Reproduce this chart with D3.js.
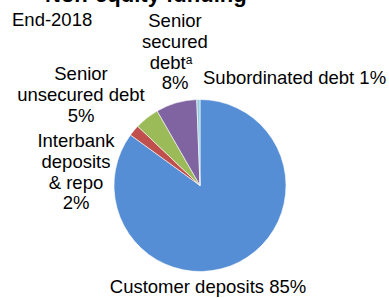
<!DOCTYPE html>
<html>
    <head>
        <meta charset="utf-8">
        <style>
        html, body {
            margin: 0px;
            background: #fff;
        }
        svg text {
            font-family: "Liberation Sans", Arial, sans-serif;
            fill: #000;
        }
        </style>
    </head>
    <body>
        <svg class="chart" width="389" height="298"></svg>
        <script src="https://cdn.jsdelivr.net/npm/d3@7"></script>
        <script>
            // slices, clockwise from 12 o'clock
            var categories = ["Customer deposits", "Interbank deposits & repo", "Senior unsecured debt",
                              "Senior secured debt", "Subordinated debt"];
            var shares = [85, 2.1, 4.6, 7.7, 0.6];
            var pctLabels = ["85%", "2%", "5%", "8%", "1%"];
            var colors = ["#558ed5", "#c0504d", "#9bbb59", "#8064a2", "#93cddd"];

            var svg = d3.select(".chart");
            var cx = 200, cy = 185.5, radius = 86;

            // title, mostly cut off at the top edge
            svg.append("text")
               .attr("x", 45).attr("y", 1.5)
               .style("font-size", "22px").style("font-weight", "bold")
               .text("Non-equity funding");

            svg.append("text")
               .attr("x", 12).attr("y", 26)
               .style("font-size", "18.5px")
               .text("End-2018");

            var pie = d3.pie().sort(null).value(function(d) { return d; });
            var arc = d3.arc().innerRadius(0).outerRadius(radius);

            var g = svg.append("g")
                       .attr("transform", "translate(" + cx + "," + cy + ")");

            g.selectAll("path")
             .data(pie(shares))
             .enter().append("path")
             .attr("d", arc)
             .attr("fill", function(d, i) { return colors[i]; })
             .attr("stroke", "#fff")
             .attr("stroke-width", 0.6);

            // labels: lines per slice, anchor point, line spacing
            var labelLines = [
                [categories[0] + " " + pctLabels[0]],
                ["Interbank", "deposits", "& repo", pctLabels[1]],
                ["Senior", "unsecured debt", pctLabels[2]],
                ["Senior", "secured", "debt", pctLabels[3]],
                [categories[4] + " " + pctLabels[4]]
            ];
            var labelPos = [
                {x: 208, y: 293, anchor: "middle"},
                {x: 76, y: 147, anchor: "middle"},
                {x: 81, y: 80, anchor: "middle"},
                {x: 175, y: 27, anchor: "middle"},
                {x: 203, y: 84, anchor: "start"}
            ];
            var lineH = 20.8;

            labelLines.forEach(function(lines, i) {
                var p = labelPos[i];
                var t = svg.append("text")
                           .attr("text-anchor", p.anchor)
                           .style("font-size", "18.5px");
                lines.forEach(function(line, j) {
                    var ts = t.append("tspan")
                              .attr("x", p.x)
                              .attr("y", p.y + j * lineH)
                              .text(line);
                    if (i == 3 && line == "debt") {
                        ts.attr("x", p.x - 4);
                        t.append("tspan")
                         .attr("dy", -5)
                         .style("font-size", "12px")
                         .text("a");
                    }
                });
            });
        </script>
    </body>
</html>
